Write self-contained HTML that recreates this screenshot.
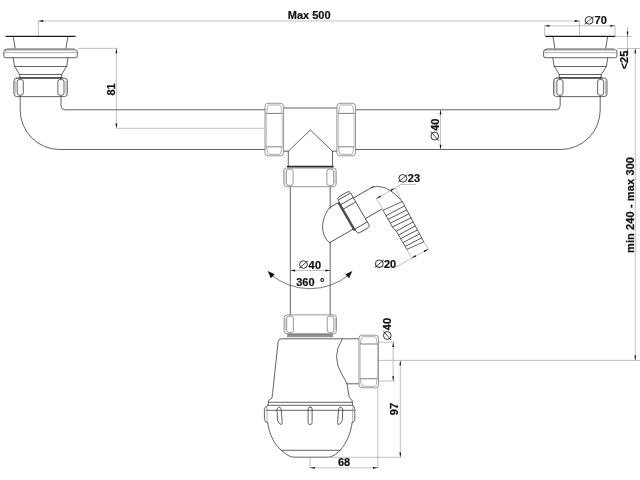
<!DOCTYPE html>
<html><head><meta charset="utf-8">
<style>
html,body{margin:0;padding:0;background:#fff;}
body{width:640px;height:480px;overflow:hidden;}
svg{display:block;will-change:transform;}
.o{fill:none;stroke:#303030;stroke-width:0.75;stroke-linecap:round;stroke-linejoin:round;}
.w{fill:#fff;stroke:#6a6a6a;stroke-width:0.7;stroke-linejoin:round;}
.i{fill:none;stroke:#7a7a7a;stroke-width:0.6;stroke-linejoin:round;}
.k{fill:none;stroke:#1a1a1a;stroke-width:1.4;}
.d{fill:none;stroke:#888;stroke-width:0.52;}
.a{fill:#111;stroke:none;}
text{font-family:"Liberation Sans",sans-serif;font-weight:bold;font-size:11px;fill:#111;stroke:#111;stroke-width:0.2px;}
</style></head><body>
<svg width="640" height="480" viewBox="0 0 640 480">
<defs>
<g id="drain">
  <!-- centred on x=0 -->
  <path class="k" d="M-35,36.4H35"/>
  <path class="o" d="M-27.3,37L-25.4,48.2M27.3,37L25.4,48.2"/>
  <path class="i" d="M-34,48.5H34"/>
  <rect class="o" x="-36.7" y="49.8" width="73.4" height="7.9" rx="1.8"/>
  <path class="i" d="M-36.3,52.6H36.3"/>
  <path class="o" d="M-27.4,58L-26.1,66.5L-24.8,68.2L-21.1,74.5L-20.4,78M27.4,58L26.1,66.5L24.8,68.2L21.1,74.5L20.4,78"/>
  <path class="o" d="M-26.1,66.5H26.1M-21.1,74.5H21.1"/>
  <rect class="o" x="-26.7" y="78.1" width="53.4" height="18.5" rx="3"/>
  <rect class="i" x="-23.4" y="79.6" width="6.1" height="15.6" rx="2" style="stroke:#333;stroke-width:.75"/>
  <rect class="i" x="17.3" y="79.6" width="6.1" height="15.6" rx="2" style="stroke:#333;stroke-width:.75"/>
  <path class="i" d="M-25.4,81V94M25.4,81V94"/>
  <path class="o" d="M-21.5,77.8H21.5" style="stroke-width:1.3"/>
</g>
<g id="hnut">
  <!-- nut on horizontal pipe, x=0..18.6, y=103.3..155.8 -->
  <rect class="w" x="0" y="103.3" width="18.6" height="52.5" rx="3"/>
  <path class="i" d="M1.5,113.4L2.6,106.6Q2.9,105 4.6,105H14Q15.7,105 16,106.6L17.1,113.4M1.5,146.8L2.6,152.8Q2.9,154.3 4.6,154.3H14Q15.7,154.3 16,152.8L17.1,146.8"/>
  <path class="i" d="M1.3,113.4H17.3M1.3,146.8H17.3" style="stroke:#4a4a4a;stroke-width:.7"/>
  <path class="i" d="M1.4,113.4V146.8M17.2,113.4V146.8" style="stroke:#999"/>
</g>
<g id="vnut">
  <!-- nut on vertical pipe, centred x=0, y=0..18.8 -->
  <rect class="w" x="-26.2" y="0" width="52.4" height="18.8" rx="3"/>
  <rect class="i" x="-23.6" y="1.3" width="6.7" height="16.2" rx="2" style="stroke:#555"/>
  <rect class="i" x="16.9" y="1.3" width="6.7" height="16.2" rx="2" style="stroke:#555"/>
  <path class="i" d="M-25,3V15.8M25,3V15.8" style="stroke:#999"/>
</g>

<g id="dia"><ellipse cx="4.7" cy="-3.95" rx="3.95" ry="3.8" fill="none" stroke="#111" stroke-width="0.85"/><path d="M0.1,-0.1L9.3,-7.8" stroke="#111" stroke-width="0.75" fill="none"/></g>
<path id="ar" class="a" d="M0,0L-4.8,-0.9V0.9Z"/>
</defs>

<!-- ========== pipes ========== -->
<path class="o" d="M20.2,96.2V110A39.5,39.5 0 0 0 59.7,149.5H265"/>
<path class="o" d="M61,96.2V105.8A4,4 0 0 0 65,109.8H265"/>
<path class="o" d="M600.2,96.2V110A39.5,39.5 0 0 1 560.7,149.5H355.4"/>
<path class="o" d="M560.2,96.2V105.8A4,4 0 0 1 556.2,109.8H355.4"/>

<use href="#drain" x="40.6" y="0"/>
<use href="#drain" x="580.3" y="0"/>

<!-- ========== tee ========== -->
<path class="o" d="M283.7,108H337"/>
<path class="o" d="M283.7,151.2H288.3L310.3,130L332.5,151.2H337"/>
<path class="o" d="M288.3,151.2V167M332.5,151.2V167"/>
<use href="#hnut" x="265" y="0"/>
<use href="#hnut" x="336.9" y="0"/>

<!-- vertical pipe -->
<path class="o" d="M290.3,186V315M330.2,186V208.4M330.2,242.2V315"/>
<use href="#vnut" x="310" y="167.9"/>
<path d="M287,166.4H333.5" fill="none" stroke="#2a2a2a" stroke-width="1.1"/><path d="M287.3,167.7H333.2" fill="none" stroke="#666" stroke-width="0.7"/>
<use href="#vnut" x="310.3" y="314.9"/>
<path d="M287,334.5H333.2M287.4,335.6H332.8M287,336.7H333.2" fill="none" stroke="#555" stroke-width="0.7"/>

<!-- ========== trap body ========== -->
<path class="o" d="M358.8,338.8H281.4Q278.5,338.8 278.1,341.8L272.7,392.5L271.9,398.2L268.7,400.4L267.9,405.6Q264.4,406.6 264.4,409.6V419.4Q264.4,422 267.7,422.8"/>
<path class="o" d="M359,383.8H347L349.2,397.3L352,400.4L352.8,405.6Q354.8,406.6 354.8,409.6V419.4Q354.8,422 352.1,422.8"/>
<path class="o" d="M342.2,339.2Q336.6,348 336.5,356.5Q336.6,366 342,374.5Q345,379.5 347,383.8"/>
<path class="o" d="M268.6,402.3H352M267.8,405.3H352.8M266,410.3H354"/>
<path class="i" d="M267,407V422M352.6,407V422"/>
<!-- bowl -->
<path class="o" d="M267.7,422.8C269,433 273.5,443.5 281.3,450.3C286,454.5 290,457.2 295,457.2H327C332,457.2 336,454.5 340,450.3C346.5,443.5 350.8,433 352.1,422.8"/>
<path class="o" d="M281.3,450.3H340"/>
<!-- slots -->
<path class="o" d="M277.2,408.6Q278.4,406.6 279.9,407.2Q281,407.8 281.2,409.5L282.2,422.5Q282.2,425 280.8,424.4Q278.2,423.2 277.6,420.6Z"/>
<rect class="o" x="308.1" y="407" width="4" height="17.6" rx="2"/>
<path class="o" d="M342.6,408.6Q341.4,406.6 339.9,407.2Q338.8,407.8 338.6,409.5L337.6,422.5Q337.6,425 339,424.4Q341.6,423.2 342.2,420.6Z"/>
<!-- side outlet nut -->
<rect class="w" x="359" y="335.2" width="19.5" height="52.6" rx="3"/>
<path class="i" d="M360.3,344L361.4,338.2Q361.7,336.7 363.4,336.7H374.2Q375.9,336.7 376.2,338.2L377.3,344M360.3,378.7L361.4,384.8Q361.7,386.3 363.4,386.3H374.2Q375.9,386.3 376.2,384.8L377.3,378.7"/>
<path class="i" d="M360.1,344H377.5M360.1,378.7H377.5" style="stroke:#4a4a4a;stroke-width:.7"/>
<path class="i" d="M360.2,344V378.7M377.4,344V378.7" style="stroke:#999"/>

<!-- ========== side branch ========== -->
<path class="o" d="M329.6,207.7C325,213.5 322.6,220.5 322.6,227C322.7,233.8 325.3,239.3 329.6,242.7"/>
<g transform="translate(329.6,225.2) rotate(-30)">
  <path class="o" d="M8.75,-15.2H18.5M-8.75,15.2H18.5"/>
  <path d="M18.9,-15.4V17.2" stroke="#444" stroke-width="1.9" fill="none"/>
  <rect class="w" x="20" y="-19.9" width="14.3" height="41.4" rx="2.4" style="stroke:#333;stroke-width:.75"/>
  <path class="i" d="M20.6,-17.4H33.6M20,-12.2H34.3M20,-7.1H34.3M20,16H34.3" style="stroke:#333;stroke-width:.75"/>
  <path class="o" d="M34.3,-11.6H57.5M34.3,12.2H53.5"/>
</g>
<!-- bend -->
<path class="o" d="M371.2,187.4Q377.5,184.9 385,187.8Q394.3,191.6 402.4,201.9"/>
<!-- barb -->
<path class="o" d="M383.2,210.6L392.5,227.2L396.6,231.7L406.9,249.4L423.75,241.9L402.5,201.9Z"/>
<path class="o" d="M386.1,215.6L404.6,205.9M388.2,219.4L406.75,209.9M390.5,223.1L408.9,213.9M392.5,226.9L411,217.9M396.2,231.3L413.1,221.9M398.7,235L415.25,225.9M400.7,238.7L417.4,229.9M403.1,242.5L419.5,233.9M405.4,246.2L421.6,237.9" style="stroke-width:.8"/>
<!-- barb dims -->
<path class="d" d="M383.6,210L376.3,198.7L395,188.1L402.4,201.9M395,188.1L400.6,184.4H416"/>
<path class="d" d="M406.9,249.4L411.8,258.3M423.75,241.9L428.6,249.3M428.4,249.1L396.6,266.6H375"/>
<use href="#ar" transform="translate(376.3,198.7) rotate(150.5)"/>
<use href="#ar" transform="translate(395,188.1) rotate(-29.5)"/>
<use href="#ar" transform="translate(411.6,258.1) rotate(151.8)"/>
<use href="#ar" transform="translate(428.4,249.1) rotate(-28.2)"/>

<!-- ========== dimensions ========== -->
<path class="d" d="M38.4,36V21H579.5V36"/>
<use href="#ar" transform="translate(38.4,21) rotate(180)"/>
<use href="#ar" transform="translate(579.5,21)"/>
<path class="d" d="M544.6,36V25.8H615V36"/>
<use href="#ar" transform="translate(544.6,25.8) rotate(180)"/>
<use href="#ar" transform="translate(615,25.8)"/>
<path class="d" d="M615.5,36.4H631M617.5,48.5H640M627.5,27V56"/>
<use href="#ar" transform="translate(627.5,36.4) rotate(90)"/>
<use href="#ar" transform="translate(627.5,48.5) rotate(-90)"/>
<path class="d" d="M635.3,48.5V360.4M378.8,360.4H640"/>
<use href="#ar" transform="translate(635.3,48.5) rotate(-90)"/>
<use href="#ar" transform="translate(635.3,360.4) rotate(90)"/>
<path class="d" d="M78,48.4H117.5M116.4,48.4V128.3H264.5"/>
<use href="#ar" transform="translate(116.4,48.4) rotate(-90)"/>
<use href="#ar" transform="translate(116.4,128.3) rotate(90)"/>
<path class="d" d="M440.5,109.8V149.5"/>
<use href="#ar" transform="translate(440.5,109.8) rotate(-90)"/>
<use href="#ar" transform="translate(440.5,149.5) rotate(90)"/>
<path class="d" d="M290.3,270.5H330.2"/>
<use href="#ar" transform="translate(290.3,270.5) rotate(180)"/>
<use href="#ar" transform="translate(330.2,270.5)"/>
<path class="d" d="M378.8,342.2H395M378.8,381H395M393.2,342.2V381"/>
<use href="#ar" transform="translate(393.2,342.2) rotate(-90)"/>
<use href="#ar" transform="translate(393.2,381) rotate(90)"/>
<path class="d" d="M400.3,360.4V457.3M330,457.3H401"/>
<use href="#ar" transform="translate(400.3,360.4) rotate(-90)"/>
<use href="#ar" transform="translate(400.3,457.3) rotate(90)"/>
<path class="d" d="M310,457V468.5M377.8,388V468.5M310,467.8H377.8"/>
<use href="#ar" transform="translate(310,467.8) rotate(180)"/>
<use href="#ar" transform="translate(377.8,467.8)"/>
<!-- 360 arc -->
<path d="M270.8,274.6A61.5,61.5 0 0 0 349.2,274.6" fill="none" stroke="#333" stroke-width="0.65"/>
<path class="a" d="M267.7,271L274.6,274.2L270.9,278.2Z"/>
<path class="a" d="M352.3,271L345.4,274.2L349.1,278.2Z"/>

<!-- ========== text ========== -->
<text x="287.8" y="19" textLength="42.8">Max 500</text>
<use href="#dia" x="584.4" y="24.3"/><text x="594.6" y="24.3">70</text>
<use href="#dia" x="398.1" y="182.3"/><text x="407.8" y="182.3">23</text>
<use href="#dia" x="374.6" y="267.7"/><text x="384" y="267.7">20</text>
<use href="#dia" x="298.8" y="268.5"/><text x="308.5" y="268.5" textLength="12.7">40</text>
<text x="296.2" y="286.3">360</text><text x="319.9" y="286.3">°</text>
<text x="338" y="465.6">68</text>
<text transform="translate(115,89.4) rotate(-90)" text-anchor="middle">81</text>
<text transform="translate(627.8,60) rotate(-90)" text-anchor="middle">&lt;25</text>
<text transform="translate(634.4,205) rotate(-90)" text-anchor="middle" textLength="96">min 240 - max 300</text>
<g transform="translate(438.7,140.8) rotate(-90)"><use href="#dia"/><text x="10" y="0">40</text></g>
<g transform="translate(391.2,340.2) rotate(-90)"><use href="#dia"/><text x="10" y="0">40</text></g>
<text transform="translate(397.7,409.1) rotate(-90)" text-anchor="middle">97</text>

</svg>
</body></html>
